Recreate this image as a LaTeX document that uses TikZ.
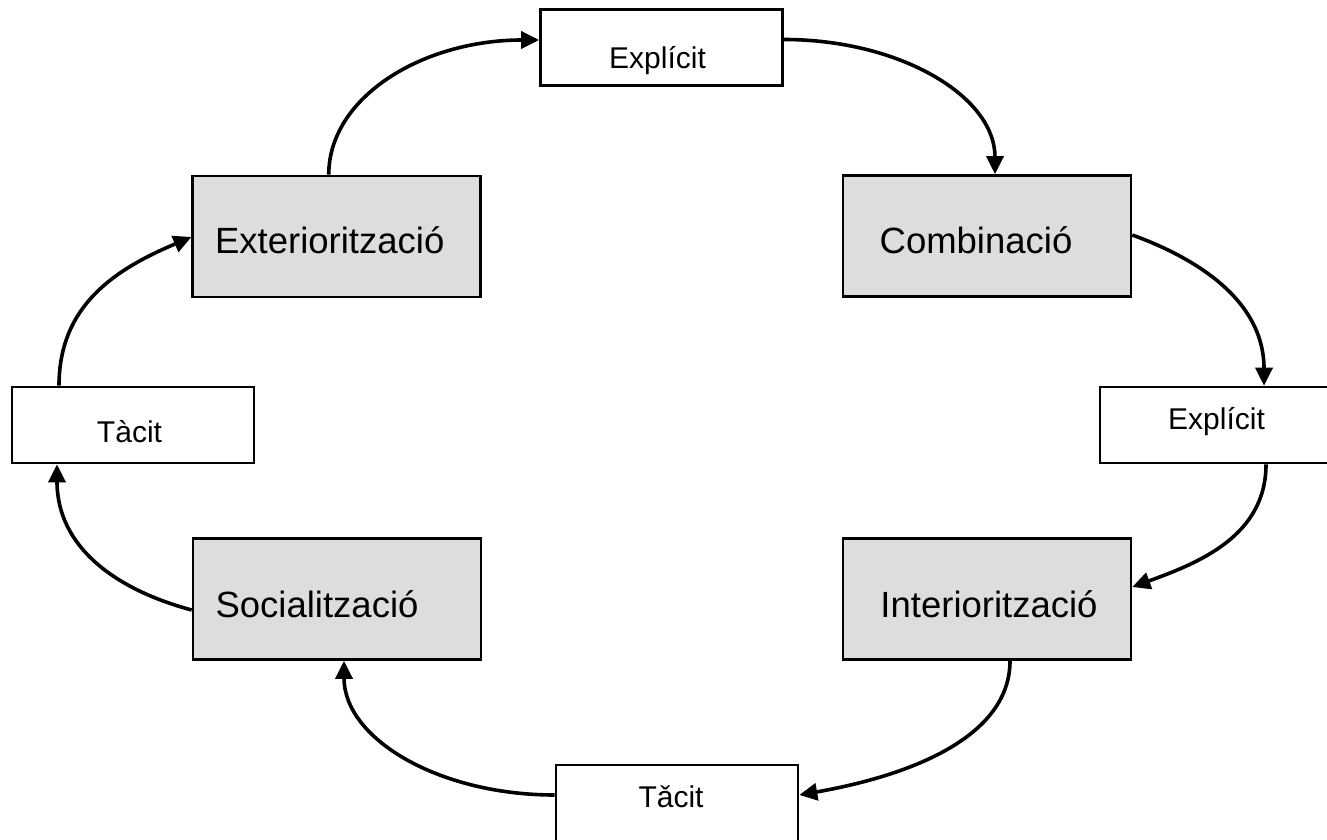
\documentclass[tikz,border=0pt]{standalone}
\usepackage{fontspec}
\setmainfont{Liberation Sans}
\usetikzlibrary{arrows.meta,calc}
\definecolor{boxgray}{RGB}{221,221,221}
\newcommand{\tpos}[3]{\raisebox{#2}[0pt][0pt]{\makebox[0pt][c]{\hspace*{#1}#3}}}
\begin{document}
\begin{tikzpicture}[x=1pt,y=1pt,
  gbox/.style={draw=black, fill=boxgray, line width=2.6pt, minimum width=288pt, minimum height=121pt, inner sep=0pt, font=\fontsize{36.5}{40}\selectfont},
  wbox/.style={draw=black, fill=white, line width=2.6pt, minimum width=242pt, minimum height=76pt, inner sep=0pt, font=\fontsize{30}{34}\selectfont},
  flow/.style={line width=3.6pt, -{Triangle[length=18pt,width=17pt]}}]
\useasboundingbox (0,0) rectangle (1327,839);
\node[wbox] (expT) at (661.5,791.5) {\tpos{-8pt}{-21.5pt}{Explícit}};
\node[gbox] (ext)  at (336.75,602.5) {\tpos{-14pt}{-17.5pt}{Exteriorització}};
\node[gbox] (comb) at (987,603) {\tpos{-22pt}{-18pt}{Combinació}};
\node[wbox] (tacL) at (133,414) {\tpos{-7pt}{-18pt}{Tàcit}};
\node[wbox] (expR) at (1221,414) {\tpos{-9pt}{-5pt}{Explícit}};
\node[gbox] (soc)  at (337,240) {\tpos{-40pt}{-18pt}{Socialització}};
\node[gbox] (inte) at (987,240) {\tpos{4pt}{-18pt}{Interiorització}};
\node[wbox] (tacB) at (677,36) {\tpos{-12pt}{-4pt}{Tǎcit}};
\draw[flow] ($(ext.north)+(-8,0)$) to[out=90,in=180,out distance=78pt,in distance=116pt] ($(expT.west)+(0,7.5)$);
\draw[flow] ($(expT.east)+(0,8)$) to[out=0,in=90,out distance=116pt,in distance=78pt] ($(comb.north)+(8,0)$);
\draw[flow] ($(comb.east)+(0,1)$) to[out=-20,in=90,out distance=75pt,in distance=82pt] ($(expR.north)+(43,0)$);
\draw[flow] ($(expR.south)+(45,0)$) to[out=-90,in=20,out distance=72pt,in distance=70pt] ($(inte.east)+(0,12)$);
\draw[flow] ($(inte.south)+(23,0)$) to[out=-90,in=10,out distance=75pt,in distance=116pt] ($(tacB.east)+(0,8)$);
\draw[flow] ($(tacB.west)+(0,8)$) to[out=180,in=-90,out distance=116pt,in distance=78pt] ($(soc.south)+(7,0)$);
\draw[flow] ($(soc.west)+(0,-11)$) to[out=165,in=-90,out distance=80pt,in distance=82pt] ($(tacL.south)+(-76,0)$);
\draw[flow] ($(tacL.north)+(-74,0)$) to[out=90,in=203,out distance=82pt,in distance=80pt] ($(ext.west)+(0,-0.5)$);
\end{tikzpicture}
\end{document}
